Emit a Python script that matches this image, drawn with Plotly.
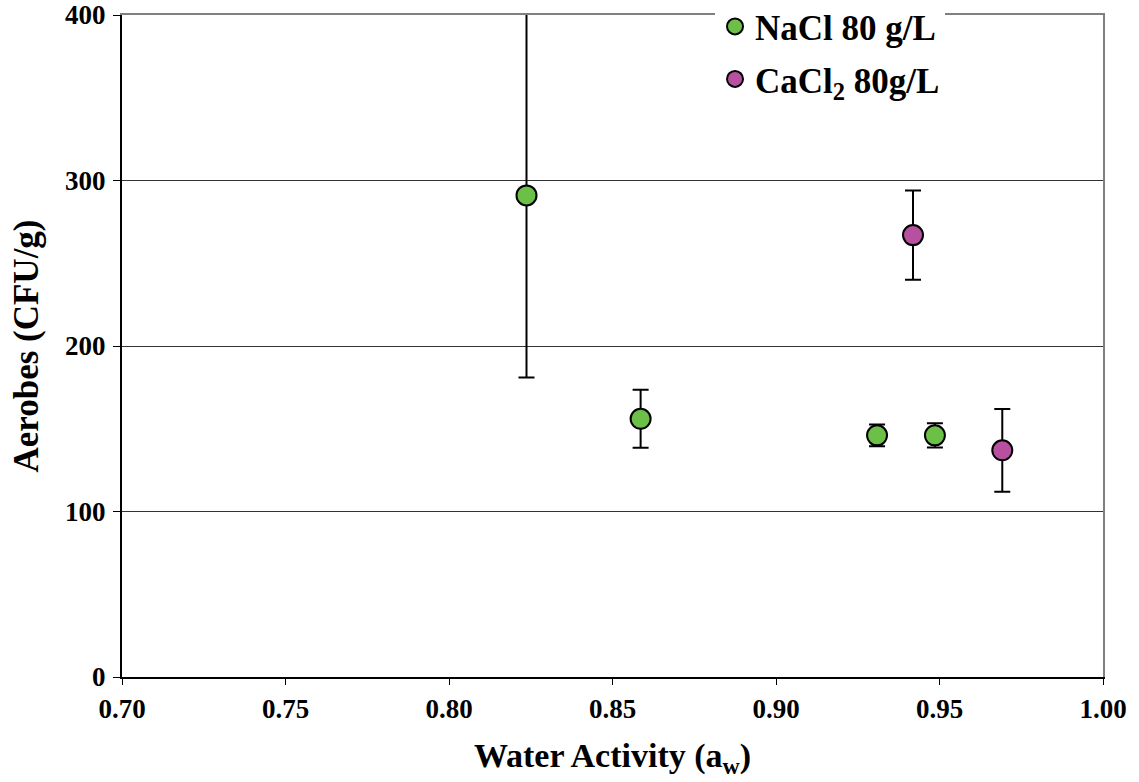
import plotly.graph_objects as go

# Aerobic counts versus water activity for two brine treatments
nacl_aw = [0.8237, 0.8586, 0.9309, 0.9486]
nacl_cfu = [291, 156, 146, 146]
nacl_err = [110, 17.5, 6.5, 7.3]

cacl2_aw = [0.9419, 0.9692]
cacl2_cfu = [267, 137]
cacl2_err = [27, 25]

x_ticks = [0.70, 0.75, 0.80, 0.85, 0.90, 0.95, 1.00]
y_ticks = [0, 100, 200, 300, 400]

FONT = "Liberation Serif"
GREEN = "#6CBF47"
MAGENTA = "#B6509F"

fig = go.Figure()

fig.add_trace(go.Scatter(
    x=nacl_aw, y=nacl_cfu, mode="markers", name="<b>NaCl 80 g/L</b>",
    legendgroup="nacl",
    marker=dict(size=20, color=GREEN, line=dict(color="black", width=2)),
    error_y=dict(type="data", array=nacl_err, visible=True,
                 color="black", thickness=2, width=8),
))
fig.add_trace(go.Scatter(
    x=cacl2_aw, y=cacl2_cfu, mode="markers", name="<b>CaCl<sub>2</sub> 80g/L</b>",
    legendgroup="cacl2",
    marker=dict(size=20, color=MAGENTA, line=dict(color="black", width=2)),
    error_y=dict(type="data", array=cacl2_err, visible=True,
                 color="black", thickness=2, width=8),
))

# grey frame on the top and right edges of the plot area
fig.add_trace(go.Scatter(x=[None], y=[None], xaxis="x2", yaxis="y2",
                         showlegend=False, hoverinfo="skip"))

fig.update_layout(
    width=1139, height=782,
    margin=dict(l=122, r=36, t=15, b=105, autoexpand=False),
    paper_bgcolor="white", plot_bgcolor="white",
    font=dict(family=FONT, color="black"),
    showlegend=True,
    legend=dict(
        x=0.6045, xanchor="left", y=1.027, yanchor="top",
        bgcolor="white", borderwidth=0,
        font=dict(family=FONT, size=35, color="black"),
        tracegroupgap=4, itemsizing="trace",
    ),
    xaxis=dict(
        range=[0.70, 1.00], tickvals=x_ticks,
        ticktext=[f"<b>{v:.2f}</b>" for v in x_ticks],
        tickfont=dict(family=FONT, size=27),
        ticks="outside", ticklen=6, tickwidth=1, tickcolor="black",
        showline=True, linecolor="black", linewidth=2,
        showgrid=False, zeroline=False, ticklabelstandoff=1,
        ticklabeloverflow="allow",
        title=dict(text="<b>Water Activity (a<sub>w</sub>)</b>",
                   font=dict(family=FONT, size=34), standoff=20),
    ),
    yaxis=dict(
        range=[0, 400], tickvals=y_ticks,
        ticktext=[f"<b>{v}</b>" for v in y_ticks],
        tickfont=dict(family=FONT, size=27),
        ticks="outside", ticklen=7, tickwidth=1, tickcolor="black",
        showline=True, linecolor="black", linewidth=2,
        showgrid=True, gridcolor="#333333", gridwidth=1,
        zeroline=False, ticklabelstandoff=2, ticklabeloverflow="allow",
        title=dict(text="<b>Aerobes (CFU/g)</b>",
                   font=dict(family=FONT, size=35), standoff=16),
    ),
    xaxis2=dict(overlaying="x", side="top", range=[0.70, 1.00],
                showline=True, linecolor="#808080", linewidth=2,
                showticklabels=False, ticks="", showgrid=False, zeroline=False),
    yaxis2=dict(overlaying="y", side="right", range=[0, 400],
                showline=True, linecolor="#808080", linewidth=2,
                showticklabels=False, ticks="", showgrid=False, zeroline=False),
)

fig.write_html("out.html")
